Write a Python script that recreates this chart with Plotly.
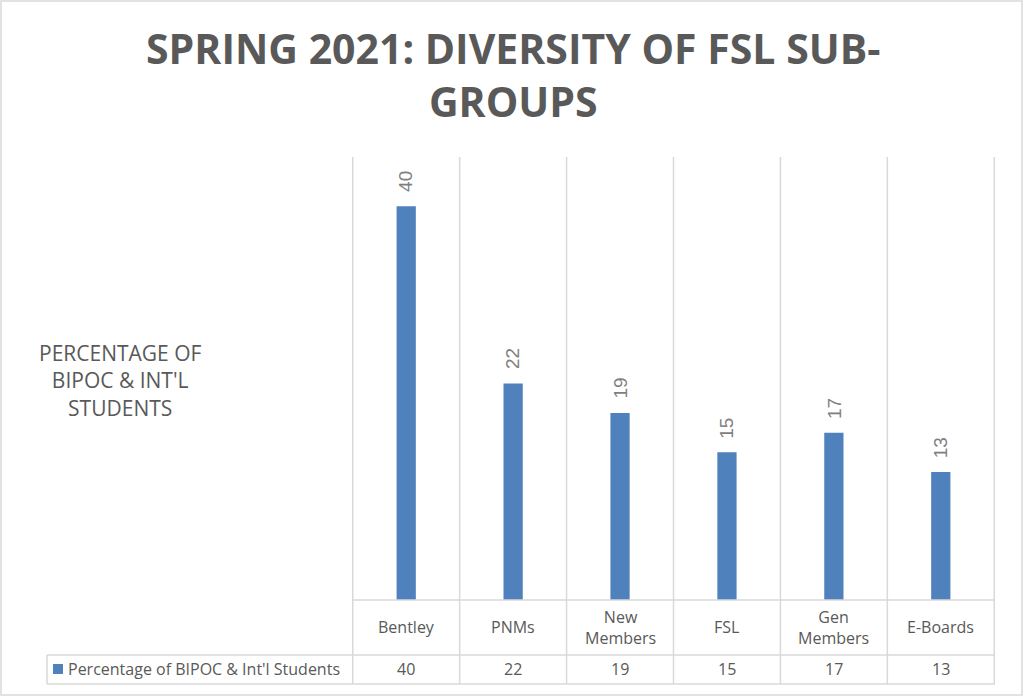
import plotly.graph_objects as go

categories = ["Bentley", "PNMs", "New Members", "FSL", "Gen Members", "E-Boards"]
category_labels = ["Bentley", "PNMs", "New<br>Members", "FSL", "Gen<br>Members", "E-Boards"]
values = [40, 22, 19, 15, 17, 13]
series_name = "Percentage of BIPOC & Int'l Students"
chart_title = "SPRING 2021: DIVERSITY OF FSL SUB-<br>GROUPS"
y_title = "PERCENTAGE OF<br>BIPOC & INT'L<br>STUDENTS"

W, H = 1025, 698
BAR = "#4F81BD"
GRID = "#D9D9D9"
TXT = "#595959"
FONT = "Open Sans"


def px(x):
    return x / W


def py(y):
    return 1 - y / H


plot_left, plot_right, plot_top, plot_bottom = 352, 995, 157, 600
row1_bottom, row2_bottom, table_left = 655, 684, 47

fig = go.Figure()
fig.add_trace(go.Bar(
    x=categories, y=values, name=series_name,
    marker=dict(color=BAR, line=dict(width=0)),
    hoverinfo="x+y",
))

n = len(categories)
shapes = []
for i in range(n + 1):
    shapes.append(dict(type="line", xref="x", yref="paper", x0=i - 0.5, x1=i - 0.5,
                       y0=py(row2_bottom), y1=py(plot_top), line=dict(color=GRID, width=1.5)))
shapes.append(dict(type="line", xref="paper", yref="paper", x0=px(plot_left), x1=px(plot_right),
                   y0=py(plot_bottom), y1=py(plot_bottom), line=dict(color=GRID, width=1.5)))
for yy in (row1_bottom, row2_bottom):
    shapes.append(dict(type="line", xref="paper", yref="paper", x0=px(table_left), x1=px(plot_right),
                       y0=py(yy), y1=py(yy), line=dict(color=GRID, width=1.5)))
shapes.append(dict(type="line", xref="paper", yref="paper", x0=px(table_left), x1=px(table_left),
                   y0=py(row2_bottom), y1=py(row1_bottom), line=dict(color=GRID, width=1.5)))
shapes.append(dict(type="rect", xref="paper", yref="paper", x0=px(53), x1=px(63),
                   y0=py(674), y1=py(664), fillcolor=BAR, line=dict(width=0)))
shapes.append(dict(type="rect", xref="paper", yref="paper", x0=px(1), x1=px(1022),
                   y0=py(695), y1=py(1), line=dict(color=GRID, width=1.5)))

annotations = []
annotations.append(dict(text=chart_title, xref="paper", yref="paper", x=0.5, y=py(74),
                        xanchor="center", yanchor="middle", showarrow=False,
                        font=dict(family=FONT, size=41, color=TXT, weight="bold")))
annotations.append(dict(text=y_title, xref="paper", yref="paper", x=px(120), y=py(380),
                        xanchor="center", yanchor="middle", showarrow=False,
                        font=dict(family=FONT, size=21, color=TXT)))
for c, v in zip(categories, values):
    annotations.append(dict(text=str(v), xref="x", yref="y", x=c, y=v,
                            xanchor="center", yanchor="bottom", yshift=12, textangle=-90,
                            showarrow=False,
                            font=dict(family="Liberation Sans", size=19, color="#7F7F7F")))
for c, lab in zip(categories, category_labels):
    annotations.append(dict(text=lab, xref="x", yref="paper", x=c, y=py(627),
                            xanchor="center", yanchor="middle", showarrow=False,
                            font=dict(family=FONT, size=16, color=TXT)))
for c, v in zip(categories, values):
    annotations.append(dict(text=str(v), xref="x", yref="paper", x=c, y=py(669),
                            xanchor="center", yanchor="middle", showarrow=False,
                            font=dict(family=FONT, size=16, color=TXT)))
annotations.append(dict(text=series_name, xref="paper", yref="paper", x=px(66), y=py(669),
                        xanchor="left", yanchor="middle", showarrow=False,
                        font=dict(family=FONT, size=16, color=TXT)))

fig.update_layout(
    width=W, height=H,
    margin=dict(l=0, r=0, t=0, b=0),
    paper_bgcolor="white", plot_bgcolor="white",
    showlegend=False,
    bargap=0.82,
    xaxis=dict(domain=[px(plot_left), px(plot_right)], type="category",
               showgrid=False, showticklabels=False, ticks="", showline=False, zeroline=False),
    yaxis=dict(domain=[py(plot_bottom), py(plot_top)], range=[0, 45],
               showgrid=False, showticklabels=False, ticks="", showline=False, zeroline=False),
    shapes=shapes,
    annotations=annotations,
)

fig.write_html("out.html", config={"displayModeBar": False},
               post_script="document.body.style.margin='0px';")
